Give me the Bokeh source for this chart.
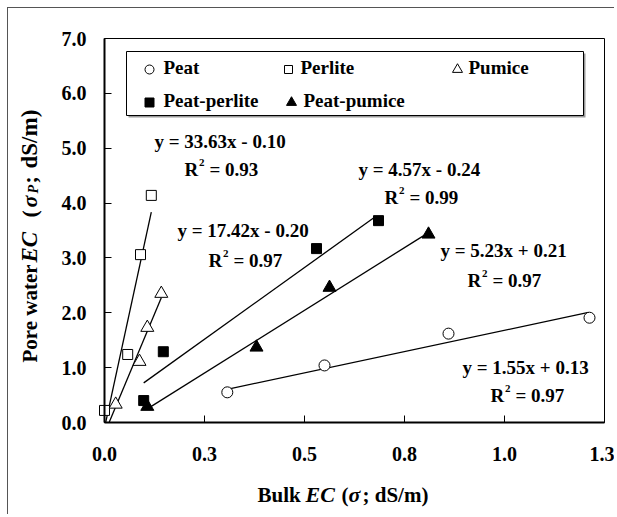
import numpy as np
from math import pi
from bokeh.plotting import figure
from bokeh.models import Label, BoxAnnotation, FixedTicker, Range1d
from bokeh.embed import file_html
from bokeh.resources import INLINE

# ---------------- data ----------------
peat_x = [0.307, 0.55, 0.86, 1.2125]
peat_y = [0.55, 1.04, 1.62, 1.91]
perlite_x = [0.0, 0.058, 0.09, 0.117]
perlite_y = [0.22, 1.24, 3.06, 4.14]
pumice_x = [0.028, 0.0875, 0.107, 0.142]
pumice_y = [0.33, 1.11, 1.73, 2.35]
peat_perlite_x = [0.098, 0.147, 0.53, 0.685]
peat_perlite_y = [0.40, 1.29, 3.17, 3.68]
peat_pumice_x = [0.107, 0.38, 0.5625, 0.81]
peat_pumice_y = [0.29, 1.37, 2.46, 3.43]

# trend lines: slope, intercept (from the chart's equations) and x-extent
trend_names = ["Perlite", "Pumice", "Peat-perlite", "Peat-pumice", "Peat"]
trend_slope = [33.63, 17.42, 5.23, 4.57, 1.55]
trend_intercept = [-0.10, -0.20, 0.21, -0.24, 0.13]
trend_x0 = [0.003, 0.012, 0.098, 0.107, 0.315]
trend_x1 = [0.117, 0.142, 0.6725, 0.80, 1.21]

eq_texts = ["y = 33.63x - 0.10", "y = 4.57x - 0.24", "y = 17.42x - 0.20",
            "y = 5.23x + 0.21", "y = 1.55x + 0.13"]
r2_texts = ["0.93", "0.99", "0.97", "0.97", "0.97"]

X_MIN, X_MAX = 0.0, 1.25
Y_MIN, Y_MAX = 0.0, 7.0
x_ticks = [0.0, 0.25, 0.5, 0.75, 1.0, 1.25]
x_tick_labels = ["0.0", "0.3", "0.5", "0.8", "1.0", "1.3"]
y_ticks = [0, 1, 2, 3, 4, 5, 6, 7]
y_tick_labels = ["0.0", "1.0", "2.0", "3.0", "4.0", "5.0", "6.0", "7.0"]

# ---------------- layout helpers (page pixels -> data) ----------------
OX, OY = 8, 8                      # canvas origin on the page (7px margin + 1px border)
FL, FR, FT, FB = 104, 604, 38, 422  # plot area on the page
W, H = 607, 507
LIFT = 8                            # baseline correction for Label text

def DX(px):
    return X_MIN + (px - FL) / (FR - FL) * (X_MAX - X_MIN)
def DY(py):
    return Y_MIN + (FB - py) / (FB - FT) * (Y_MAX - Y_MIN)

FONT = "Liberation Serif"

# the frame fills the canvas; the axes sit at fixed data locations inside it,
# so that the axis titles (Labels) are inside the drawable frame
p = figure(width=W, height=H,
           x_range=Range1d(DX(OX), DX(OX + W)), y_range=Range1d(DY(OY + H), DY(OY)),
           output_backend="svg", toolbar_location=None,
           min_border_left=0, min_border_top=0, min_border_right=0, min_border_bottom=0,
           styles={"margin-left": "7px", "margin-top": "7px",
                   "border-left": "1px solid #555", "border-top": "1px solid #555"})
p.background_fill_color = "white"
p.border_fill_color = "white"
p.outline_line_color = None
p.xgrid.visible = False
p.ygrid.visible = False

# plot-area box
p.add_layout(BoxAnnotation(left=X_MIN, right=X_MAX, bottom=Y_MIN, top=Y_MAX,
                           fill_alpha=0, line_color="black", line_alpha=1,
                           line_width=1, level="underlay"))

for ax in (p.xaxis, p.yaxis):
    ax.major_tick_in = 7
    ax.major_tick_out = 0
    ax.minor_tick_line_color = None
    ax.axis_line_width = 2
    ax.major_tick_line_width = 1
    ax.major_label_text_font = FONT
    ax.major_label_text_font_style = "bold"
    ax.major_label_text_font_size = "20px"
    ax.major_label_text_color = "black"

p.xaxis.fixed_location = Y_MIN
p.xaxis.bounds = (X_MIN, X_MAX)
p.xaxis.ticker = FixedTicker(ticks=x_ticks)
p.xaxis.major_label_overrides = {t: l for t, l in zip(x_ticks, x_tick_labels)}
p.xaxis.major_label_standoff = 24
p.yaxis.fixed_location = X_MIN
p.yaxis.bounds = (Y_MIN, Y_MAX)
p.yaxis.ticker = FixedTicker(ticks=y_ticks)
p.yaxis.major_label_overrides = {t: l for t, l in zip(y_ticks, y_tick_labels)}
p.yaxis.major_label_standoff = 18

# ---------------- trend lines ----------------
for s, b, x0, x1 in zip(trend_slope, trend_intercept, trend_x0, trend_x1):
    xs = np.array([x0, x1])
    ys = s * xs + b
    p.line(xs, ys, line_color="black", line_width=1.3)

# ---------------- points ----------------
p.scatter(peat_x, peat_y, marker="circle", size=11, fill_color="white", line_color="black", line_width=1)
p.scatter(perlite_x, perlite_y, marker="square", size=10, fill_color="white", line_color="black", line_width=1)
p.scatter(pumice_x, pumice_y, marker="triangle", size=13, fill_color="white", line_color="black", line_width=1)
p.scatter(peat_perlite_x, peat_perlite_y, marker="square", size=10, fill_color="black", line_color="black")
p.scatter(peat_pumice_x, peat_pumice_y, marker="triangle", size=13, fill_color="black", line_color="black")

def lab(text, px, py, size=19, style="bold", rotated=False):
    if rotated:
        x, y, ang = DX(px - LIFT), DY(py), pi / 2
    else:
        x, y, ang = DX(px), DY(py - LIFT), 0
    p.add_layout(Label(x=x, y=y, text=text, text_font=FONT,
                       text_font_style=style, text_font_size=f"{size}px",
                       text_color="black", angle=ang, text_align="left",
                       text_baseline="alphabetic"))

# ---------------- equations ----------------
eq_pos = [(154, 149), (358, 177), (177, 238), (440, 258), (462, 375)]
r2_pos = [(184, 177), (384, 205), (208, 268), (467, 288), (490, 403)]
for t, (ex, ey) in zip(eq_texts, eq_pos):
    lab(t, ex, ey)
for t, (rx, ry) in zip(r2_texts, r2_pos):
    lab("R", rx, ry)
    lab("2", rx + 14.5, ry - 7, size=11)
    lab("= " + t, rx + 25, ry)

# ---------------- legend ----------------
# soft shadow then box
p.add_layout(BoxAnnotation(left=DX(128), right=DX(585), top=DY(53), bottom=DY(117),
                           fill_color="#9a9a9a", fill_alpha=1, line_alpha=0, level="underlay"))
p.add_layout(BoxAnnotation(left=DX(126), right=DX(583), top=DY(51), bottom=DY(115),
                           fill_color="white", fill_alpha=1, line_color="black",
                           line_alpha=1, line_width=1, level="underlay"))
leg = [("Peat", "circle", "white", 149, 69, 163, 9),
       ("Perlite", "square", "white", 288, 69, 300, 8),
       ("Pumice", "triangle", "white", 457, 69, 468, 10),
       ("Peat-perlite", "square", "black", 149, 102, 163, 9),
       ("Peat-pumice", "triangle", "black", 291, 102, 303, 10)]
for name, mk, fc, mx, my, tx, sz in leg:
    p.scatter([DX(mx)], [DY(my)], marker=mk, size=sz, fill_color=fc, line_color="black", line_width=1)
    lab(name, tx, my + 6)

# ---------------- axis titles ----------------
bx, by = 257, 502
lab("Bulk", bx, by, size=21)
lab("EC", bx + 48, by, size=22, style="bold italic")
lab("(", bx + 84, by, size=21)
lab("σ", bx + 91, by, size=22, style="bold italic")
lab("; dS/m)", bx + 105, by, size=21)

vx, vy = 37, 362
lab("Pore water", vx, vy, size=21, rotated=True)
lab("EC", vx, vy - 100, size=23, style="bold italic", rotated=True)
lab("(", vx, vy - 145, size=22, rotated=True)
lab("σ", vx, vy - 155, size=22, style="bold italic", rotated=True)
lab("P", vx + 4, vy - 169, size=14, style="bold italic", rotated=True)
lab(";", vx, vy - 179, size=22, rotated=True)
lab("dS/m)", vx, vy - 194, size=23, rotated=True)

open("out.html", "w").write(file_html(p, INLINE))
